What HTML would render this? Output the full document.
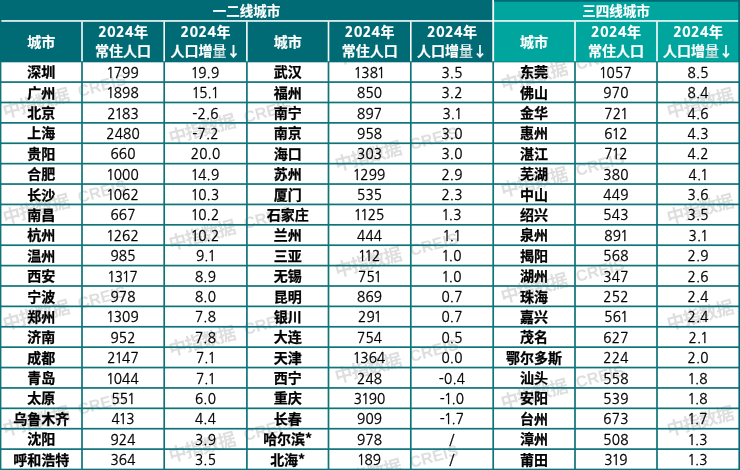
<!DOCTYPE html>
<html><head><meta charset="utf-8"><style>
*{margin:0;padding:0;box-sizing:border-box}
html,body{width:740px;height:470px;overflow:hidden;background:#fff}
#c{position:relative;width:740px;height:470px;overflow:hidden;background:#fff}
svg.g{position:absolute;left:0;top:0}
.t{position:absolute;display:flex;align-items:center;justify-content:center;white-space:nowrap}
.hd{color:#fff;font:700 14px/20px "Noto Sans CJK SC",sans-serif;text-align:center;-webkit-text-stroke:0.2px #fff}
.hd .y{font-family:"NanumGothic","Noto Sans CJK SC",sans-serif;font-weight:800;letter-spacing:0.5px}
.hd .l1,.hd .l2{height:20px;line-height:20px;position:relative}
.hd .l1{top:-0.3px}
.hd .l2{top:-1px}
.hd .lg{background:linear-gradient(#fff 0,#fff 35%,#c4d9d9 60%,#c4d9d9 100%);-webkit-background-clip:text;background-clip:text;color:transparent;-webkit-text-stroke:0}
.city{color:#000;font:700 14px/20px "Noto Sans CJK SC",sans-serif;padding-bottom:1.4px;-webkit-text-stroke:0.25px #000}
.num{color:#000;font:400 13.6px/20px "NanumGothic",sans-serif;letter-spacing:0.2px;-webkit-text-stroke:0.3px #000;padding-top:1.8px}
.num s{text-decoration:none;margin:0 -1px}
.wm{position:absolute;color:#dedede;font:700 18px/20px "Noto Sans CJK SC",sans-serif;letter-spacing:-1.1px;white-space:nowrap;transform-origin:0 100%;transform:rotate(-15deg)}
.wm b{font:700 16px/20px "Liberation Sans",sans-serif;letter-spacing:0.2px;margin-left:10px;position:relative;top:-1.5px}
#wmc{position:absolute;left:0;top:62px;width:740px;height:408px;overflow:hidden}
</style></head><body><div id="c">
<div id="wmc"><div class="wm" style="left:6.0px;top:-68.2px">中指数据<b>CREIS</b></div><div class="wm" style="left:6.0px;top:37.8px">中指数据<b>CREIS</b></div><div class="wm" style="left:6.0px;top:143.8px">中指数据<b>CREIS</b></div><div class="wm" style="left:6.0px;top:249.8px">中指数据<b>CREIS</b></div><div class="wm" style="left:6.0px;top:355.8px">中指数据<b>CREIS</b></div><div class="wm" style="left:172.0px;top:-41.7px">中指数据<b>CREIS</b></div><div class="wm" style="left:172.0px;top:64.3px">中指数据<b>CREIS</b></div><div class="wm" style="left:172.0px;top:170.3px">中指数据<b>CREIS</b></div><div class="wm" style="left:172.0px;top:276.3px">中指数据<b>CREIS</b></div><div class="wm" style="left:172.0px;top:382.3px">中指数据<b>CREIS</b></div><div class="wm" style="left:338.0px;top:-15.2px">中指数据<b>CREIS</b></div><div class="wm" style="left:338.0px;top:90.8px">中指数据<b>CREIS</b></div><div class="wm" style="left:338.0px;top:196.8px">中指数据<b>CREIS</b></div><div class="wm" style="left:338.0px;top:302.8px">中指数据<b>CREIS</b></div><div class="wm" style="left:338.0px;top:408.8px">中指数据<b>CREIS</b></div><div class="wm" style="left:504.0px;top:11.3px">中指数据<b>CREIS</b></div><div class="wm" style="left:504.0px;top:117.3px">中指数据<b>CREIS</b></div><div class="wm" style="left:504.0px;top:223.3px">中指数据<b>CREIS</b></div><div class="wm" style="left:504.0px;top:329.3px">中指数据<b>CREIS</b></div><div class="wm" style="left:504.0px;top:435.3px">中指数据<b>CREIS</b></div><div class="wm" style="left:670.0px;top:37.8px">中指数据<b>CREIS</b></div><div class="wm" style="left:670.0px;top:143.8px">中指数据<b>CREIS</b></div><div class="wm" style="left:670.0px;top:249.8px">中指数据<b>CREIS</b></div><div class="wm" style="left:670.0px;top:355.8px">中指数据<b>CREIS</b></div><div class="wm" style="left:670.0px;top:461.8px">中指数据<b>CREIS</b></div></div>
<svg class="g" width="740" height="470" viewBox="0 0 740 470"><rect x="0" y="0" width="740" height="62.3" fill="#006b74"/><rect x="494" y="1.5" width="244.5" height="60.2" fill="#00a69e"/><rect x="1" y="20.1" width="737.5" height="1.7" fill="#eaf5f5"/><rect x="81.20" y="21.5" width="1.6" height="40.2" fill="#fbfdfd"/><rect x="163.40" y="21.5" width="1.6" height="40.2" fill="#fbfdfd"/><rect x="246.10" y="21.5" width="1.6" height="40.2" fill="#fbfdfd"/><rect x="327.70" y="21.5" width="1.6" height="40.2" fill="#fbfdfd"/><rect x="410.00" y="21.5" width="1.6" height="40.2" fill="#fbfdfd"/><rect x="492.30" y="0" width="1.8" height="61.7" fill="#ffffff"/><rect x="574.20" y="21.5" width="1.6" height="40.2" fill="#fbfdfd"/><rect x="656.20" y="21.5" width="1.6" height="40.2" fill="#fbfdfd"/><rect x="0" y="81.24" width="740" height="1.7" fill="#0e747a"/><rect x="0" y="101.63" width="740" height="1.7" fill="#0e747a"/><rect x="0" y="122.02" width="740" height="1.7" fill="#0e747a"/><rect x="0" y="142.41" width="740" height="1.7" fill="#0e747a"/><rect x="0" y="162.80" width="740" height="1.7" fill="#0e747a"/><rect x="0" y="183.19" width="740" height="1.7" fill="#0e747a"/><rect x="0" y="203.58" width="740" height="1.7" fill="#0e747a"/><rect x="0" y="223.97" width="740" height="1.7" fill="#0e747a"/><rect x="0" y="244.36" width="740" height="1.7" fill="#0e747a"/><rect x="0" y="264.75" width="740" height="1.7" fill="#0e747a"/><rect x="0" y="285.14" width="740" height="1.7" fill="#0e747a"/><rect x="0" y="305.53" width="740" height="1.7" fill="#0e747a"/><rect x="0" y="325.92" width="740" height="1.7" fill="#0e747a"/><rect x="0" y="346.31" width="740" height="1.7" fill="#0e747a"/><rect x="0" y="366.70" width="740" height="1.7" fill="#0e747a"/><rect x="0" y="387.09" width="740" height="1.7" fill="#0e747a"/><rect x="0" y="407.48" width="740" height="1.7" fill="#0e747a"/><rect x="0" y="427.87" width="740" height="1.7" fill="#0e747a"/><rect x="0" y="448.26" width="740" height="1.7" fill="#0e747a"/><rect x="0" y="468.65" width="740" height="1.7" fill="#0e747a"/><rect x="0" y="61.3" width="1.4" height="408.7" fill="#0e747a"/><rect x="81.15" y="61.3" width="1.7" height="408.7" fill="#0e747a"/><rect x="163.35" y="61.3" width="1.7" height="408.7" fill="#0e747a"/><rect x="246.05" y="61.3" width="1.7" height="408.7" fill="#0e747a"/><rect x="327.65" y="61.3" width="1.7" height="408.7" fill="#0e747a"/><rect x="409.95" y="61.3" width="1.7" height="408.7" fill="#0e747a"/><rect x="492.35" y="61.3" width="1.7" height="408.7" fill="#0e747a"/><rect x="574.15" y="61.3" width="1.7" height="408.7" fill="#0e747a"/><rect x="656.15" y="61.3" width="1.7" height="408.7" fill="#0e747a"/><rect x="738.4" y="0" width="1.6" height="470" fill="#006b74"/><rect x="0" y="0" width="1.4" height="61.3" fill="#006b74"/><rect x="494" y="0" width="246" height="1.5" fill="#006b74"/></svg>
<div class="t hd" style="left:0.0px;top:0.0px;width:493.0px;height:20.5px;font-size:13.5px;padding-bottom:1px">一二线城市</div>
<div class="t hd" style="left:493.0px;top:0.0px;width:246.0px;height:20.5px;font-size:13.5px;padding-bottom:1px">三四线城市</div>
<div class="t hd" style="left:0.7px;top:21.5px;width:81.3px;height:39.8px;padding-bottom:1.6px">城市</div>
<div class="t hd" style="left:82.0px;top:21.5px;width:82.2px;height:39.8px"><div><div class="l1"><span class="y">2024</span>年</div><div class="l2">常住人口</div></div></div>
<div class="t hd" style="left:164.2px;top:21.5px;width:82.7px;height:39.8px"><div><div class="l1"><span class="y">2024</span>年</div><div class="l2">人口增<span class="lg">量</span>↓</div></div></div>
<div class="t hd" style="left:246.9px;top:21.5px;width:81.6px;height:39.8px;padding-bottom:1.6px">城市</div>
<div class="t hd" style="left:328.5px;top:21.5px;width:82.3px;height:39.8px"><div><div class="l1"><span class="y">2024</span>年</div><div class="l2">常住人口</div></div></div>
<div class="t hd" style="left:410.8px;top:21.5px;width:82.4px;height:39.8px"><div><div class="l1"><span class="y">2024</span>年</div><div class="l2">人口增<span class="lg">量</span>↓</div></div></div>
<div class="t hd" style="left:493.2px;top:21.5px;width:81.8px;height:39.8px;padding-bottom:1.6px">城市</div>
<div class="t hd" style="left:575.0px;top:21.5px;width:82.0px;height:39.8px"><div><div class="l1"><span class="y">2024</span>年</div><div class="l2">常住人口</div></div></div>
<div class="t hd" style="left:657.0px;top:21.5px;width:82.2px;height:39.8px"><div><div class="l1"><span class="y">2024</span>年</div><div class="l2">人口增<span class="lg">量</span>↓</div></div></div>
<div class="t city" style="left:0.7px;top:61.7px;width:81.3px;height:20.4px">深圳</div>
<div class="t num" style="left:82.0px;top:61.7px;width:82.2px;height:20.4px"><s>1</s>799</div>
<div class="t num" style="left:164.2px;top:61.7px;width:82.7px;height:20.4px"><s>1</s>9.9</div>
<div class="t city" style="left:0.7px;top:82.1px;width:81.3px;height:20.4px">广州</div>
<div class="t num" style="left:82.0px;top:82.1px;width:82.2px;height:20.4px"><s>1</s>898</div>
<div class="t num" style="left:164.2px;top:82.1px;width:82.7px;height:20.4px"><s>1</s>5.<s>1</s></div>
<div class="t city" style="left:0.7px;top:102.5px;width:81.3px;height:20.4px">北京</div>
<div class="t num" style="left:82.0px;top:102.5px;width:82.2px;height:20.4px">2<s>1</s>83</div>
<div class="t num" style="left:164.2px;top:102.5px;width:82.7px;height:20.4px">-2.6</div>
<div class="t city" style="left:0.7px;top:122.9px;width:81.3px;height:20.4px">上海</div>
<div class="t num" style="left:82.0px;top:122.9px;width:82.2px;height:20.4px">2480</div>
<div class="t num" style="left:164.2px;top:122.9px;width:82.7px;height:20.4px">-7.2</div>
<div class="t city" style="left:0.7px;top:143.3px;width:81.3px;height:20.4px">贵阳</div>
<div class="t num" style="left:82.0px;top:143.3px;width:82.2px;height:20.4px">660</div>
<div class="t num" style="left:164.2px;top:143.3px;width:82.7px;height:20.4px">20.0</div>
<div class="t city" style="left:0.7px;top:163.7px;width:81.3px;height:20.4px">合肥</div>
<div class="t num" style="left:82.0px;top:163.7px;width:82.2px;height:20.4px"><s>1</s>000</div>
<div class="t num" style="left:164.2px;top:163.7px;width:82.7px;height:20.4px"><s>1</s>4.9</div>
<div class="t city" style="left:0.7px;top:184.0px;width:81.3px;height:20.4px">长沙</div>
<div class="t num" style="left:82.0px;top:184.0px;width:82.2px;height:20.4px"><s>1</s>062</div>
<div class="t num" style="left:164.2px;top:184.0px;width:82.7px;height:20.4px"><s>1</s>0.3</div>
<div class="t city" style="left:0.7px;top:204.4px;width:81.3px;height:20.4px">南昌</div>
<div class="t num" style="left:82.0px;top:204.4px;width:82.2px;height:20.4px">667</div>
<div class="t num" style="left:164.2px;top:204.4px;width:82.7px;height:20.4px"><s>1</s>0.2</div>
<div class="t city" style="left:0.7px;top:224.8px;width:81.3px;height:20.4px">杭州</div>
<div class="t num" style="left:82.0px;top:224.8px;width:82.2px;height:20.4px"><s>1</s>262</div>
<div class="t num" style="left:164.2px;top:224.8px;width:82.7px;height:20.4px"><s>1</s>0.2</div>
<div class="t city" style="left:0.7px;top:245.2px;width:81.3px;height:20.4px">温州</div>
<div class="t num" style="left:82.0px;top:245.2px;width:82.2px;height:20.4px">985</div>
<div class="t num" style="left:164.2px;top:245.2px;width:82.7px;height:20.4px">9.<s>1</s></div>
<div class="t city" style="left:0.7px;top:265.6px;width:81.3px;height:20.4px">西安</div>
<div class="t num" style="left:82.0px;top:265.6px;width:82.2px;height:20.4px"><s>1</s>3<s>1</s>7</div>
<div class="t num" style="left:164.2px;top:265.6px;width:82.7px;height:20.4px">8.9</div>
<div class="t city" style="left:0.7px;top:286.0px;width:81.3px;height:20.4px">宁波</div>
<div class="t num" style="left:82.0px;top:286.0px;width:82.2px;height:20.4px">978</div>
<div class="t num" style="left:164.2px;top:286.0px;width:82.7px;height:20.4px">8.0</div>
<div class="t city" style="left:0.7px;top:306.4px;width:81.3px;height:20.4px">郑州</div>
<div class="t num" style="left:82.0px;top:306.4px;width:82.2px;height:20.4px"><s>1</s>309</div>
<div class="t num" style="left:164.2px;top:306.4px;width:82.7px;height:20.4px">7.8</div>
<div class="t city" style="left:0.7px;top:326.8px;width:81.3px;height:20.4px">济南</div>
<div class="t num" style="left:82.0px;top:326.8px;width:82.2px;height:20.4px">952</div>
<div class="t num" style="left:164.2px;top:326.8px;width:82.7px;height:20.4px">7.8</div>
<div class="t city" style="left:0.7px;top:347.2px;width:81.3px;height:20.4px">成都</div>
<div class="t num" style="left:82.0px;top:347.2px;width:82.2px;height:20.4px">2<s>1</s>47</div>
<div class="t num" style="left:164.2px;top:347.2px;width:82.7px;height:20.4px">7.<s>1</s></div>
<div class="t city" style="left:0.7px;top:367.6px;width:81.3px;height:20.4px">青岛</div>
<div class="t num" style="left:82.0px;top:367.6px;width:82.2px;height:20.4px"><s>1</s>044</div>
<div class="t num" style="left:164.2px;top:367.6px;width:82.7px;height:20.4px">7.<s>1</s></div>
<div class="t city" style="left:0.7px;top:387.9px;width:81.3px;height:20.4px">太原</div>
<div class="t num" style="left:82.0px;top:387.9px;width:82.2px;height:20.4px">55<s>1</s></div>
<div class="t num" style="left:164.2px;top:387.9px;width:82.7px;height:20.4px">6.0</div>
<div class="t city" style="left:0.7px;top:408.3px;width:81.3px;height:20.4px">乌鲁木齐</div>
<div class="t num" style="left:82.0px;top:408.3px;width:82.2px;height:20.4px">4<s>1</s>3</div>
<div class="t num" style="left:164.2px;top:408.3px;width:82.7px;height:20.4px">4.4</div>
<div class="t city" style="left:0.7px;top:428.7px;width:81.3px;height:20.4px">沈阳</div>
<div class="t num" style="left:82.0px;top:428.7px;width:82.2px;height:20.4px">924</div>
<div class="t num" style="left:164.2px;top:428.7px;width:82.7px;height:20.4px">3.9</div>
<div class="t city" style="left:0.7px;top:449.1px;width:81.3px;height:20.4px">呼和浩特</div>
<div class="t num" style="left:82.0px;top:449.1px;width:82.2px;height:20.4px">364</div>
<div class="t num" style="left:164.2px;top:449.1px;width:82.7px;height:20.4px">3.5</div>
<div class="t city" style="left:246.9px;top:61.7px;width:81.6px;height:20.4px">武汉</div>
<div class="t num" style="left:328.5px;top:61.7px;width:82.3px;height:20.4px"><s>1</s>38<s>1</s></div>
<div class="t num" style="left:410.8px;top:61.7px;width:82.4px;height:20.4px">3.5</div>
<div class="t city" style="left:246.9px;top:82.1px;width:81.6px;height:20.4px">福州</div>
<div class="t num" style="left:328.5px;top:82.1px;width:82.3px;height:20.4px">850</div>
<div class="t num" style="left:410.8px;top:82.1px;width:82.4px;height:20.4px">3.2</div>
<div class="t city" style="left:246.9px;top:102.5px;width:81.6px;height:20.4px">南宁</div>
<div class="t num" style="left:328.5px;top:102.5px;width:82.3px;height:20.4px">897</div>
<div class="t num" style="left:410.8px;top:102.5px;width:82.4px;height:20.4px">3.<s>1</s></div>
<div class="t city" style="left:246.9px;top:122.9px;width:81.6px;height:20.4px">南京</div>
<div class="t num" style="left:328.5px;top:122.9px;width:82.3px;height:20.4px">958</div>
<div class="t num" style="left:410.8px;top:122.9px;width:82.4px;height:20.4px">3.0</div>
<div class="t city" style="left:246.9px;top:143.3px;width:81.6px;height:20.4px">海口</div>
<div class="t num" style="left:328.5px;top:143.3px;width:82.3px;height:20.4px">303</div>
<div class="t num" style="left:410.8px;top:143.3px;width:82.4px;height:20.4px">3.0</div>
<div class="t city" style="left:246.9px;top:163.7px;width:81.6px;height:20.4px">苏州</div>
<div class="t num" style="left:328.5px;top:163.7px;width:82.3px;height:20.4px"><s>1</s>299</div>
<div class="t num" style="left:410.8px;top:163.7px;width:82.4px;height:20.4px">2.9</div>
<div class="t city" style="left:246.9px;top:184.0px;width:81.6px;height:20.4px">厦门</div>
<div class="t num" style="left:328.5px;top:184.0px;width:82.3px;height:20.4px">535</div>
<div class="t num" style="left:410.8px;top:184.0px;width:82.4px;height:20.4px">2.3</div>
<div class="t city" style="left:246.9px;top:204.4px;width:81.6px;height:20.4px">石家庄</div>
<div class="t num" style="left:328.5px;top:204.4px;width:82.3px;height:20.4px"><s>1</s><s>1</s>25</div>
<div class="t num" style="left:410.8px;top:204.4px;width:82.4px;height:20.4px"><s>1</s>.3</div>
<div class="t city" style="left:246.9px;top:224.8px;width:81.6px;height:20.4px">兰州</div>
<div class="t num" style="left:328.5px;top:224.8px;width:82.3px;height:20.4px">444</div>
<div class="t num" style="left:410.8px;top:224.8px;width:82.4px;height:20.4px"><s>1</s>.<s>1</s></div>
<div class="t city" style="left:246.9px;top:245.2px;width:81.6px;height:20.4px">三亚</div>
<div class="t num" style="left:328.5px;top:245.2px;width:82.3px;height:20.4px"><s>1</s><s>1</s>2</div>
<div class="t num" style="left:410.8px;top:245.2px;width:82.4px;height:20.4px"><s>1</s>.0</div>
<div class="t city" style="left:246.9px;top:265.6px;width:81.6px;height:20.4px">无锡</div>
<div class="t num" style="left:328.5px;top:265.6px;width:82.3px;height:20.4px">75<s>1</s></div>
<div class="t num" style="left:410.8px;top:265.6px;width:82.4px;height:20.4px"><s>1</s>.0</div>
<div class="t city" style="left:246.9px;top:286.0px;width:81.6px;height:20.4px">昆明</div>
<div class="t num" style="left:328.5px;top:286.0px;width:82.3px;height:20.4px">869</div>
<div class="t num" style="left:410.8px;top:286.0px;width:82.4px;height:20.4px">0.7</div>
<div class="t city" style="left:246.9px;top:306.4px;width:81.6px;height:20.4px">银川</div>
<div class="t num" style="left:328.5px;top:306.4px;width:82.3px;height:20.4px">29<s>1</s></div>
<div class="t num" style="left:410.8px;top:306.4px;width:82.4px;height:20.4px">0.7</div>
<div class="t city" style="left:246.9px;top:326.8px;width:81.6px;height:20.4px">大连</div>
<div class="t num" style="left:328.5px;top:326.8px;width:82.3px;height:20.4px">754</div>
<div class="t num" style="left:410.8px;top:326.8px;width:82.4px;height:20.4px">0.5</div>
<div class="t city" style="left:246.9px;top:347.2px;width:81.6px;height:20.4px">天津</div>
<div class="t num" style="left:328.5px;top:347.2px;width:82.3px;height:20.4px"><s>1</s>364</div>
<div class="t num" style="left:410.8px;top:347.2px;width:82.4px;height:20.4px">0.0</div>
<div class="t city" style="left:246.9px;top:367.6px;width:81.6px;height:20.4px">西宁</div>
<div class="t num" style="left:328.5px;top:367.6px;width:82.3px;height:20.4px">248</div>
<div class="t num" style="left:410.8px;top:367.6px;width:82.4px;height:20.4px">-0.4</div>
<div class="t city" style="left:246.9px;top:387.9px;width:81.6px;height:20.4px">重庆</div>
<div class="t num" style="left:328.5px;top:387.9px;width:82.3px;height:20.4px">3<s>1</s>90</div>
<div class="t num" style="left:410.8px;top:387.9px;width:82.4px;height:20.4px">-<s>1</s>.0</div>
<div class="t city" style="left:246.9px;top:408.3px;width:81.6px;height:20.4px">长春</div>
<div class="t num" style="left:328.5px;top:408.3px;width:82.3px;height:20.4px">909</div>
<div class="t num" style="left:410.8px;top:408.3px;width:82.4px;height:20.4px">-<s>1</s>.7</div>
<div class="t city" style="left:246.9px;top:428.7px;width:81.6px;height:20.4px">哈尔滨*</div>
<div class="t num" style="left:328.5px;top:428.7px;width:82.3px;height:20.4px">978</div>
<div class="t num" style="left:410.8px;top:428.7px;width:82.4px;height:20.4px">/</div>
<div class="t city" style="left:246.9px;top:449.1px;width:81.6px;height:20.4px">北海*</div>
<div class="t num" style="left:328.5px;top:449.1px;width:82.3px;height:20.4px"><s>1</s>89</div>
<div class="t num" style="left:410.8px;top:449.1px;width:82.4px;height:20.4px">/</div>
<div class="t city" style="left:493.2px;top:61.7px;width:81.8px;height:20.4px">东莞</div>
<div class="t num" style="left:575.0px;top:61.7px;width:82.0px;height:20.4px"><s>1</s>057</div>
<div class="t num" style="left:657.0px;top:61.7px;width:82.2px;height:20.4px">8.5</div>
<div class="t city" style="left:493.2px;top:82.1px;width:81.8px;height:20.4px">佛山</div>
<div class="t num" style="left:575.0px;top:82.1px;width:82.0px;height:20.4px">970</div>
<div class="t num" style="left:657.0px;top:82.1px;width:82.2px;height:20.4px">8.4</div>
<div class="t city" style="left:493.2px;top:102.5px;width:81.8px;height:20.4px">金华</div>
<div class="t num" style="left:575.0px;top:102.5px;width:82.0px;height:20.4px">72<s>1</s></div>
<div class="t num" style="left:657.0px;top:102.5px;width:82.2px;height:20.4px">4.6</div>
<div class="t city" style="left:493.2px;top:122.9px;width:81.8px;height:20.4px">惠州</div>
<div class="t num" style="left:575.0px;top:122.9px;width:82.0px;height:20.4px">6<s>1</s>2</div>
<div class="t num" style="left:657.0px;top:122.9px;width:82.2px;height:20.4px">4.3</div>
<div class="t city" style="left:493.2px;top:143.3px;width:81.8px;height:20.4px">湛江</div>
<div class="t num" style="left:575.0px;top:143.3px;width:82.0px;height:20.4px">7<s>1</s>2</div>
<div class="t num" style="left:657.0px;top:143.3px;width:82.2px;height:20.4px">4.2</div>
<div class="t city" style="left:493.2px;top:163.7px;width:81.8px;height:20.4px">芜湖</div>
<div class="t num" style="left:575.0px;top:163.7px;width:82.0px;height:20.4px">380</div>
<div class="t num" style="left:657.0px;top:163.7px;width:82.2px;height:20.4px">4.<s>1</s></div>
<div class="t city" style="left:493.2px;top:184.0px;width:81.8px;height:20.4px">中山</div>
<div class="t num" style="left:575.0px;top:184.0px;width:82.0px;height:20.4px">449</div>
<div class="t num" style="left:657.0px;top:184.0px;width:82.2px;height:20.4px">3.6</div>
<div class="t city" style="left:493.2px;top:204.4px;width:81.8px;height:20.4px">绍兴</div>
<div class="t num" style="left:575.0px;top:204.4px;width:82.0px;height:20.4px">543</div>
<div class="t num" style="left:657.0px;top:204.4px;width:82.2px;height:20.4px">3.5</div>
<div class="t city" style="left:493.2px;top:224.8px;width:81.8px;height:20.4px">泉州</div>
<div class="t num" style="left:575.0px;top:224.8px;width:82.0px;height:20.4px">89<s>1</s></div>
<div class="t num" style="left:657.0px;top:224.8px;width:82.2px;height:20.4px">3.<s>1</s></div>
<div class="t city" style="left:493.2px;top:245.2px;width:81.8px;height:20.4px">揭阳</div>
<div class="t num" style="left:575.0px;top:245.2px;width:82.0px;height:20.4px">568</div>
<div class="t num" style="left:657.0px;top:245.2px;width:82.2px;height:20.4px">2.9</div>
<div class="t city" style="left:493.2px;top:265.6px;width:81.8px;height:20.4px">湖州</div>
<div class="t num" style="left:575.0px;top:265.6px;width:82.0px;height:20.4px">347</div>
<div class="t num" style="left:657.0px;top:265.6px;width:82.2px;height:20.4px">2.6</div>
<div class="t city" style="left:493.2px;top:286.0px;width:81.8px;height:20.4px">珠海</div>
<div class="t num" style="left:575.0px;top:286.0px;width:82.0px;height:20.4px">252</div>
<div class="t num" style="left:657.0px;top:286.0px;width:82.2px;height:20.4px">2.4</div>
<div class="t city" style="left:493.2px;top:306.4px;width:81.8px;height:20.4px">嘉兴</div>
<div class="t num" style="left:575.0px;top:306.4px;width:82.0px;height:20.4px">56<s>1</s></div>
<div class="t num" style="left:657.0px;top:306.4px;width:82.2px;height:20.4px">2.4</div>
<div class="t city" style="left:493.2px;top:326.8px;width:81.8px;height:20.4px">茂名</div>
<div class="t num" style="left:575.0px;top:326.8px;width:82.0px;height:20.4px">627</div>
<div class="t num" style="left:657.0px;top:326.8px;width:82.2px;height:20.4px">2.<s>1</s></div>
<div class="t city" style="left:493.2px;top:347.2px;width:81.8px;height:20.4px">鄂尔多斯</div>
<div class="t num" style="left:575.0px;top:347.2px;width:82.0px;height:20.4px">224</div>
<div class="t num" style="left:657.0px;top:347.2px;width:82.2px;height:20.4px">2.0</div>
<div class="t city" style="left:493.2px;top:367.6px;width:81.8px;height:20.4px">汕头</div>
<div class="t num" style="left:575.0px;top:367.6px;width:82.0px;height:20.4px">558</div>
<div class="t num" style="left:657.0px;top:367.6px;width:82.2px;height:20.4px"><s>1</s>.8</div>
<div class="t city" style="left:493.2px;top:387.9px;width:81.8px;height:20.4px">安阳</div>
<div class="t num" style="left:575.0px;top:387.9px;width:82.0px;height:20.4px">539</div>
<div class="t num" style="left:657.0px;top:387.9px;width:82.2px;height:20.4px"><s>1</s>.8</div>
<div class="t city" style="left:493.2px;top:408.3px;width:81.8px;height:20.4px">台州</div>
<div class="t num" style="left:575.0px;top:408.3px;width:82.0px;height:20.4px">673</div>
<div class="t num" style="left:657.0px;top:408.3px;width:82.2px;height:20.4px"><s>1</s>.7</div>
<div class="t city" style="left:493.2px;top:428.7px;width:81.8px;height:20.4px">漳州</div>
<div class="t num" style="left:575.0px;top:428.7px;width:82.0px;height:20.4px">508</div>
<div class="t num" style="left:657.0px;top:428.7px;width:82.2px;height:20.4px"><s>1</s>.3</div>
<div class="t city" style="left:493.2px;top:449.1px;width:81.8px;height:20.4px">莆田</div>
<div class="t num" style="left:575.0px;top:449.1px;width:82.0px;height:20.4px">3<s>1</s>9</div>
<div class="t num" style="left:657.0px;top:449.1px;width:82.2px;height:20.4px"><s>1</s>.3</div>
</div></body></html>
